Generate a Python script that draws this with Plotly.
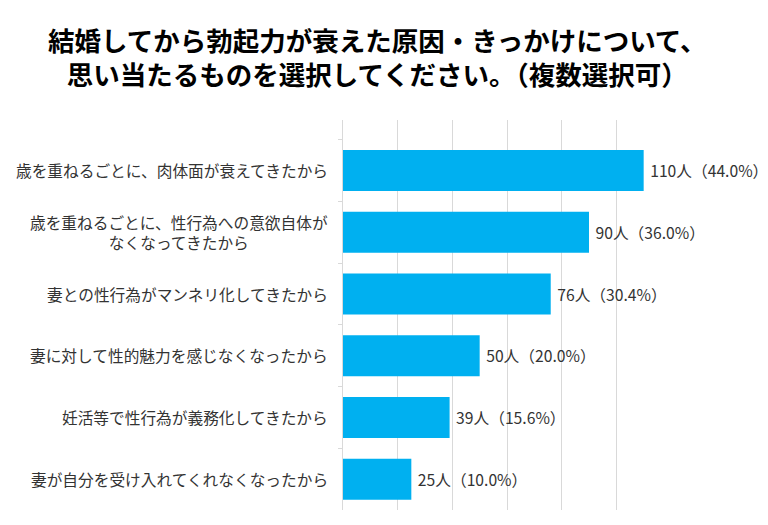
import plotly.graph_objects as go

categories = [
    "歳を重ねるごとに、肉体面が衰えてきたから",
    "歳を重ねるごとに、性行為への意欲自体が<br>なくなってきたから",
    "妻との性行為がマンネリ化してきたから",
    "妻に対して性的魅力を感じなくなったから",
    "妊活等で性行為が義務化してきたから",
    "妻が自分を受け入れてくれなくなったから",
]
counts = [110, 90, 76, 50, 39, 25]
percents = [44.0, 36.0, 30.4, 20.0, 15.6, 10.0]
x_ticks = [0, 20, 40, 60, 80, 100, 120]

title_text = "結婚してから勃起力が衰えた原因・きっかけについて、<br>思い当たるものを選択してください。（複数選択可）"

FONT = "Noto Sans CJK JP"
ids = [str(i) for i in range(len(categories))]
labels = [f" {c}人（{p:.1f}%）" for c, p in zip(counts, percents)]

fig = go.Figure()
fig.add_trace(go.Bar(
    x=counts,
    y=ids,
    orientation="h",
    marker=dict(color="#00B0F0", line=dict(width=0)),
    text=labels,
    textposition="outside",
    cliponaxis=False,
    textfont=dict(family=FONT, size=15.7, color="#333333"),
    hoverinfo="skip",
))

for i, cat in zip(ids, categories):
    fig.add_annotation(
        x=0, xref="paper", y=i, yref="y",
        text=cat, showarrow=False,
        xanchor="right", xshift=-13, align="center",
        font=dict(family=FONT, size=15.7, color="#333333"),
    )

# title as a paper-referenced annotation (centred at ~377 px of the figure)
fig.add_annotation(
    x=(377 - 343) / 328, xref="paper", y=1 + (120 - 56.5) / 390, yref="paper",
    xanchor="center", yanchor="middle", align="center",
    text=title_text, showarrow=False,
    font=dict(family=FONT, size=26.5, color="#000000", weight="bold"),
)

fig.update_layout(
    width=768, height=525,
    margin=dict(l=343, r=97, t=120, b=15),
    paper_bgcolor="white", plot_bgcolor="white",
    showlegend=False,
    bargap=0.335,
    xaxis=dict(
        range=[0, 120], tickvals=x_ticks, showticklabels=False,
        showgrid=True, gridcolor="#D9D9D9", gridwidth=1,
        zeroline=False, showline=False,
    ),
    yaxis=dict(
        type="category", categoryorder="array", categoryarray=ids,
        range=[5.5, -0.82], showticklabels=False,
        showline=True, linecolor="#D9D9D9", linewidth=1,
        ticks="outside", tickson="boundaries", ticklen=4, tickcolor="#D9D9D9",
        showgrid=False, zeroline=False,
    ),
)

fig.write_html(
    "out.html",
    config={"displayModeBar": False},
    post_script="document.body.style.margin='0';",
)
